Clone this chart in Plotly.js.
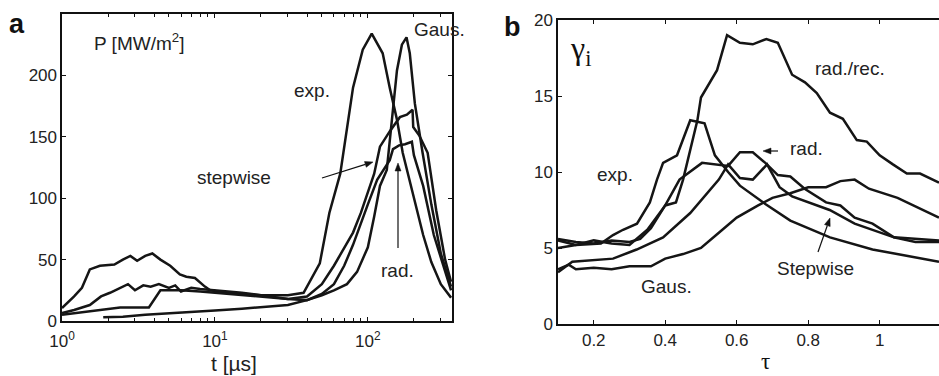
<!DOCTYPE html>
<html>
<head>
<meta charset="utf-8">
<script src="https://cdn.plot.ly/plotly-3.0.1.min.js"></script>
<style>html,body{margin:0;padding:0;background:#fff;}#chart{width:939px;height:376px;}</style>
</head>
<body>
<div id="chart"></div>
<script>
// ---------- Panel a: P [MW/m^2] vs t [µs] ----------
const tExp = [1, 1.2, 1.35, 1.52, 1.77, 2.2, 2.5, 2.8, 3.1, 3.5, 3.9, 4.4, 5.1, 5.9, 6.5, 7.4, 8.6, 9.3, 12, 15, 20, 25, 30, 38, 48.5, 56, 66, 80, 92.6, 106, 125, 139, 155, 169, 200, 230, 260, 300, 350];
const pExp = [10.6, 20, 27, 42, 45, 46, 50, 53, 49, 53, 55, 50, 45, 38, 36, 35, 28, 25, 23, 22, 21, 21, 21, 23, 47, 88, 120, 190, 221, 234, 218, 190, 164, 137, 100, 70, 48, 30, 19];

const tRad = [1, 1.2, 1.52, 1.8, 2.06, 2.4, 2.7, 3.0, 3.4, 3.8, 4.3, 5.0, 5.5, 6.0, 7, 8, 10, 15, 20, 30, 40, 50, 60, 70, 80, 90, 100, 115, 130, 139, 146, 160, 175, 194, 200, 230, 270, 320, 350];
const pRad = [6.5, 9, 13, 20, 23, 27, 30, 25, 29, 28, 30, 27, 29, 24, 27, 26, 25, 23, 21, 18, 17, 22, 30, 45, 62, 80, 95, 115, 125, 131, 140, 143, 144, 146, 135, 110, 70, 40, 25];

const tStep = [1, 1.5, 2.4, 3.0, 3.7, 4.4, 6, 8, 10, 15, 20, 30, 40, 50, 60, 70, 80, 90, 100, 110, 120, 140, 162, 180, 196, 198, 217, 246, 280, 320, 350];
const pStep = [5, 8, 11, 11, 11, 25, 25, 24, 23, 21, 20, 18, 20, 30, 45, 60, 72, 88, 105, 120, 142, 155, 166, 168, 172, 158, 151, 137, 90, 50, 32];

const tGaus = [1.86, 2.5, 3.5, 5, 7, 10, 15, 20, 30, 40, 50, 60, 73, 85, 100, 110, 120, 133, 143, 155, 167, 179, 188, 203, 228, 260, 300, 350];
const pGaus = [3, 3.5, 5, 6, 7, 8.5, 10, 11, 13, 17, 21, 25, 30, 40, 60, 85, 110, 123, 164, 204, 225, 231, 218, 177, 137, 95, 55, 28];

const aYTicks = [0, 50, 100, 150, 200];
const aXTicks = [1, 10, 100];
const aXTickText = ['10<sup>0</sup>', '10<sup>1</sup>', '10<sup>2</sup>'];
const aXMinor = [2, 3, 4, 5, 6, 7, 8, 9, 20, 30, 40, 50, 60, 70, 80, 90, 200, 300];

// ---------- Panel b: gamma_i vs tau ----------
const tauRadRec = [0.10, 0.15, 0.20, 0.25, 0.30, 0.33, 0.36, 0.40, 0.43, 0.45, 0.49, 0.50, 0.545, 0.573, 0.609, 0.645, 0.683, 0.715, 0.755, 0.791, 0.824, 0.861, 0.897, 0.936, 0.964, 1.0, 1.037, 1.076, 1.113, 1.166];
const gRadRec = [5.6, 5.4, 5.3, 5.5, 5.4, 5.6, 6.3, 7.8, 8.0, 9.5, 13.4, 14.9, 16.7, 19.0, 18.5, 18.4, 18.75, 18.5, 16.4, 15.9, 15.2, 13.9, 13.5, 12.1, 12.0, 11.1, 10.5, 9.9, 9.9, 9.3];

const tauExp = [0.10, 0.15, 0.22, 0.254, 0.282, 0.321, 0.357, 0.377, 0.394, 0.433, 0.47, 0.51, 0.539, 0.576, 0.609, 0.68, 0.75, 0.861, 0.98, 1.166];
const gExp = [5.0, 5.2, 5.3, 5.85, 6.2, 6.6, 8.0, 9.5, 10.6, 11.1, 13.4, 13.2, 11.1, 10.0, 9.1, 7.9, 6.8, 5.7, 4.9, 4.1];

const tauRad = [0.10, 0.15, 0.20, 0.25, 0.30, 0.35, 0.40, 0.44, 0.503, 0.576, 0.609, 0.645, 0.68, 0.715, 0.75, 0.79, 0.85, 0.89, 0.93, 0.98, 1.04, 1.10, 1.166];
const gRad = [5.5, 5.2, 5.5, 5.3, 5.2, 6.2, 7.8, 9.5, 10.6, 10.4, 11.3, 11.3, 10.6, 9.8, 9.7, 8.9, 8.0, 7.8, 7.0, 6.6, 5.7, 5.4, 5.4];

const tauStep = [0.10, 0.14, 0.254, 0.32, 0.394, 0.47, 0.55, 0.576, 0.609, 0.645, 0.685, 0.72, 0.755, 0.86, 0.93, 1.04, 1.166];
const gStep = [3.4, 4.1, 4.3, 4.9, 5.7, 7.3, 9.5, 10.5, 9.6, 9.5, 10.5, 9.0, 8.4, 7.5, 6.6, 5.7, 5.5];

const tauGaus = [0.10, 0.13, 0.15, 0.20, 0.25, 0.30, 0.36, 0.40, 0.45, 0.50, 0.55, 0.60, 0.66, 0.70, 0.75, 0.80, 0.85, 0.89, 0.93, 0.97, 1.05, 1.166];
const gGaus = [3.6, 3.9, 3.6, 3.7, 3.6, 3.8, 3.8, 4.3, 4.6, 5.0, 6.0, 7.0, 7.8, 8.3, 8.6, 9.0, 9.0, 9.4, 9.5, 8.9, 8.3, 7.0];

const bYTicks = [0, 5, 10, 15, 20];
const bXTicks = [0.2, 0.4, 0.6, 0.8, 1];
const bXTickText = ['0.2', '0.4', '0.6', '0.8', '1'];

// ---------- drawing ----------
const W = 939, H = 376;
const PX = x => x / W;
const PY = y => 1 - y / H;
const FONT = 'Liberation Sans, Arial, sans-serif';
const SERIF = 'Liberation Serif, Times New Roman, serif';
const lineStyle = {color: '#151515', width: 2.5};

function tr(x, y, xa, ya) {
  return {x: x, y: y, xaxis: xa, yaxis: ya, type: 'scatter', mode: 'lines', line: lineStyle, hoverinfo: 'skip'};
}

const data = [
  tr(tExp, pExp, 'x', 'y'),
  tr(tRad, pRad, 'x', 'y'),
  tr(tStep, pStep, 'x', 'y'),
  tr(tGaus, pGaus, 'x', 'y'),
  tr(tauRadRec, gRadRec, 'x2', 'y2'),
  tr(tauExp, gExp, 'x2', 'y2'),
  tr(tauRad, gRad, 'x2', 'y2'),
  tr(tauStep, gStep, 'x2', 'y2'),
  tr(tauGaus, gGaus, 'x2', 'y2')
];

const axCommon = {
  showline: true, linecolor: '#111', linewidth: 1.6,
  ticks: 'inside', ticklen: 4, tickwidth: 1, tickcolor: '#111',
  showgrid: false, zeroline: false,
  tickfont: {family: FONT, size: 17, color: '#222'},
  fixedrange: true
};

function txt(text, x, y, size, opts) {
  return Object.assign({
    text: text, xref: 'paper', yref: 'paper', x: PX(x), y: PY(y),
    showarrow: false, xanchor: 'center', yanchor: 'middle',
    font: {family: FONT, size: size, color: '#222'}
  }, opts || {});
}

// arrows drawn as shapes: a line plus a small filled head
function arrowShapes(hx, hy, tx, ty) {
  const dx = hx - tx, dy = hy - ty, L = Math.hypot(dx, dy);
  const ux = dx / L, uy = dy / L, nx = -uy, ny = ux;
  const len = 8, half = 3;
  const bx = hx - len * ux, by = hy - len * uy;
  const p1 = [bx + half * nx, by + half * ny], p2 = [bx - half * nx, by - half * ny];
  return [
    {type: 'line', xref: 'paper', yref: 'paper', x0: PX(tx), y0: PY(ty), x1: PX(bx), y1: PY(by),
     line: {color: '#111', width: 1.2}},
    {type: 'path', xref: 'paper', yref: 'paper',
     path: 'M ' + PX(hx) + ' ' + PY(hy) + ' L ' + PX(p1[0]) + ' ' + PY(p1[1]) + ' L ' + PX(p2[0]) + ' ' + PY(p2[1]) + ' Z',
     fillcolor: '#111', line: {color: '#111', width: 0.5}}
  ];
}

const shapes = [].concat(
  arrowShapes(373, 162, 322, 178),
  arrowShapes(398, 163, 398, 248),
  arrowShapes(763, 151, 778, 151),
  arrowShapes(830, 218, 818, 252)
);

const layout = {
  width: W, height: H,
  margin: {l: 0, r: 0, t: 0, b: 0, pad: 0},
  paper_bgcolor: '#fff', plot_bgcolor: '#fff',
  showlegend: false,
  xaxis: Object.assign({}, axCommon, {
    domain: [PX(62), PX(452)], anchor: 'y', type: 'log',
    range: [0, Math.log10(355)], tickmode: 'array', tickvals: aXTicks, ticktext: aXTickText,
    mirror: 'ticks', ticklabelstandoff: 4,
    minor: {tickmode: 'array', tickvals: aXMinor, ticks: 'inside', ticklen: 3, tickcolor: '#111', showgrid: false}
  }),
  yaxis: Object.assign({}, axCommon, {
    domain: [PY(321), PY(14)], anchor: 'x', range: [0, 250],
    tickmode: 'array', tickvals: aYTicks, mirror: 'ticks'
  }),
  xaxis2: Object.assign({}, axCommon, {
    domain: [PX(558), 1], anchor: 'y2', range: [0.1, 1.166],
    tickmode: 'array', tickvals: bXTicks, ticktext: bXTickText, mirror: 'ticks'
  }),
  yaxis2: Object.assign({}, axCommon, {
    domain: [PY(324), PY(20)], anchor: 'x2', range: [0, 20],
    tickmode: 'array', tickvals: bYTicks
  }),
  shapes: shapes,
  annotations: [
    // panel a
    txt('<b>a</b>', 17, 24, 27, {font: {family: FONT, size: 27, color: '#111'}}),
    txt('P [MW/m<sup>2</sup>]', 92, 42, 19, {xanchor: 'left'}),
    txt('exp.', 312, 90, 19),
    txt('Gaus.', 412, 29, 19, {xanchor: 'left'}),
    txt('stepwise', 195, 178, 19, {xanchor: 'left'}),
    txt('rad.', 397, 270, 19),
    txt('t [µs]', 234, 363, 21),
    // panel b
    txt('<b>b</b>', 512, 27, 27, {font: {family: FONT, size: 27, color: '#111'}}),
    txt('γ<sub>i</sub>', 568, 50, 32, {xanchor: 'left', font: {family: SERIF, size: 32, color: '#111'}}),
    txt('rad./rec.', 850, 68, 19),
    txt('rad.', 806, 149, 19),
    txt('exp.', 615, 174, 19),
    txt('Stepwise', 815, 268, 19),
    txt('Gaus.', 666, 286, 19),
    txt('τ', 765, 361, 23, {font: {family: SERIF, size: 23, color: '#111'}})
  ]
};

Plotly.newPlot('chart', data, layout, {displayModeBar: false, staticPlot: true});
</script>
</body>
</html>
